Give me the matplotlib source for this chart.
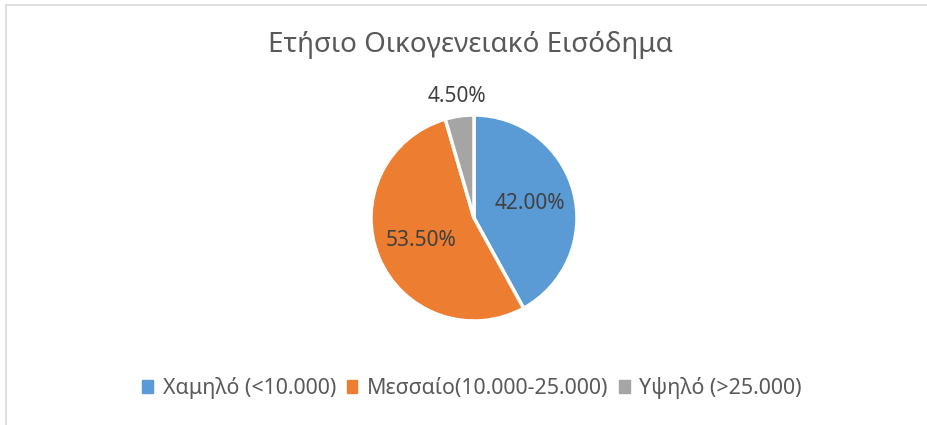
import matplotlib
matplotlib.use("Agg")
import matplotlib.pyplot as plt
import numpy as np
from matplotlib.lines import Line2D

title = "Ετήσιο Οικογενειακό Εισόδημα"
categories = ["Χαμηλό (<10.000)", "Μεσσαίο(10.000-25.000)", "Υψηλό (>25.000)"]
values = [42.0, 53.5, 4.5]
colors = ["#5B9BD5", "#ED7D31", "#A5A5A5"]

plt.rcParams['font.family'] = ['Noto Sans', 'DejaVu Sans']

W, H = 927, 425
fig = plt.figure(figsize=(W/100, H/100), dpi=100)
fig.patch.set_facecolor("white")

cx, cy, r = 474, 218, 103
ax = fig.add_axes([(cx - r)/W, (H - cy - r)/H, 2*r/W, 2*r/H])
wedges, texts, autotexts = ax.pie(values, colors=colors, startangle=90, counterclock=False,
                                  autopct=lambda p: f"{p:.2f}%", pctdistance=0.56,
                                  wedgeprops=dict(edgecolor="white", linewidth=2.5),
                                  textprops=dict(color="#404040", fontsize=15))
# outside label for the small slice
w = wedges[2]
ang = np.deg2rad((w.theta1 + w.theta2) / 2)
autotexts[2].set_position((1.19*np.cos(ang), 1.19*np.sin(ang)))
ax.set_xlim(-1, 1)
ax.set_ylim(-1, 1)
ax.set_aspect('equal')
ax.axis('off')

fig.text(470/W, 1 - 45/H, title, ha='center', va='center', fontsize=20, color="#595959")

handles = [plt.Rectangle((0, 0), 1, 1, color=c) for c in colors]
fig.legend(handles, categories, loc='center', bbox_to_anchor=(472/W, 1 - 388/H), ncol=3,
           frameon=False, fontsize=15.4, handlelength=0.5, handleheight=0.5,
           handletextpad=0.45, columnspacing=0.5, labelcolor="#595959")

# chart border lines (top and left)
fig.add_artist(Line2D([6/W, 6/W], [0, 1 - 5/H], color="#D9D9D9", lw=1.2, transform=fig.transFigure))
fig.add_artist(Line2D([6/W, 1], [1 - 5/H, 1 - 5/H], color="#D9D9D9", lw=1.2, transform=fig.transFigure))

fig.savefig("out.png", dpi=100)
